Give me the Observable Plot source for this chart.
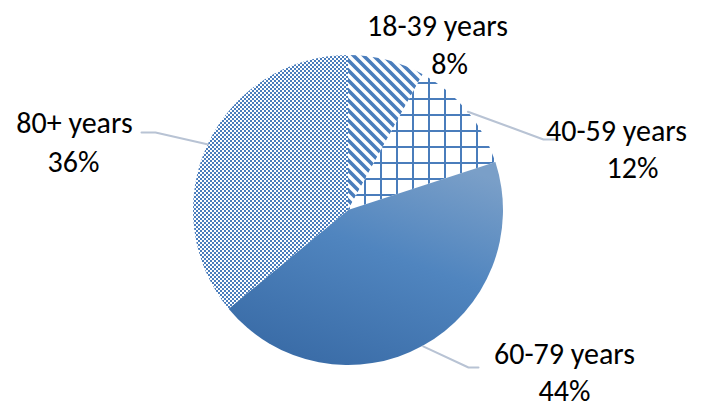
<!DOCTYPE html>
<html><head><meta charset="utf-8">
<script src="https://cdn.jsdelivr.net/npm/d3@7"></script>
<script src="https://cdn.jsdelivr.net/npm/@observablehq/plot@0.6"></script>
<style>body{margin:0;background:#fff}#chart svg{display:block}</style>
</head><body><div id="chart"></div>
<script>
// ---- data ----
const categories = ["18-39 years", "40-59 years", "60-79 years", "80+ years"];
const shares = [8, 12, 44, 36];

// ---- layout / style (kept apart from the data) ----
const fills = ["url(#p-diag)", "url(#p-grid)", "url(#g-grad)", "url(#p-check)"];
const nameCenters = [[437, 26], [616, 131], [564, 354], [74, 123]];
const pctCenters = [[449, 64], [632, 168], [564, 391], [73, 162]];
const leaderElbows = [[], [[543, 139], [555, 139]], [[468, 367], [478, 367]], [[155, 132], [141, 132]]];
const pieCenter = [348, 210];
const pieRadius = 155;
const W = 712, H = 410;
const blue = "#4a7dbc";

const data = categories.map((c, i) => ({category: c, value: shares[i], fill: fills[i], i}));
const arcs = d3.pie().sort(null).value(d => d.value)(data);
const total = d3.sum(shares);

const nameLabels = data.map((d, i) => ({text: d.category, x: nameCenters[i][0], y: nameCenters[i][1]}));
const pctLabels = data.map((d, i) => ({text: `${Math.round(d.value / total * 100)}%`, x: pctCenters[i][0], y: pctCenters[i][1]}));

const leaders = [];
arcs.forEach((a, i) => {
  if (!leaderElbows[i].length) return;
  const mid = (a.startAngle + a.endAngle) / 2;
  leaders.push({k: i, x: pieCenter[0] + pieRadius * Math.sin(mid), y: pieCenter[1] - pieRadius * Math.cos(mid)});
  leaderElbows[i].forEach(p => leaders.push({k: i, x: p[0], y: p[1]}));
});

function pieMark(index, scales, values, dims) {
  const g = d3.create("svg:g");
  const defs = g.append("defs");
  // diagonal stripes
  const pd = defs.append("pattern").attr("id", "p-diag").attr("patternUnits", "userSpaceOnUse")
    .attr("width", 10).attr("height", 10);
  pd.append("rect").attr("width", 10).attr("height", 10).attr("fill", "#fff");
  pd.append("path").attr("d", "M-2,-2L12,12M-2,8L2,12M8,-2L12,2").attr("stroke", blue).attr("stroke-width", 3.6);
  // grid
  const pg = defs.append("pattern").attr("id", "p-grid").attr("patternUnits", "userSpaceOnUse")
    .attr("width", 16).attr("height", 16);
  pg.append("rect").attr("width", 16).attr("height", 16).attr("fill", "#fff");
  pg.append("rect").attr("width", 2).attr("height", 16).attr("fill", blue).attr("shape-rendering", "crispEdges");
  pg.append("rect").attr("width", 16).attr("height", 2).attr("fill", blue).attr("shape-rendering", "crispEdges");
  // checker
  const pc = defs.append("pattern").attr("id", "p-check").attr("patternUnits", "userSpaceOnUse")
    .attr("width", 4).attr("height", 4);
  pc.append("rect").attr("width", 4).attr("height", 4).attr("fill", "#fff");
  pc.append("rect").attr("width", 2).attr("height", 2).attr("fill", blue).attr("shape-rendering", "crispEdges");
  pc.append("rect").attr("x", 2).attr("y", 2).attr("width", 2).attr("height", 2).attr("fill", blue).attr("shape-rendering", "crispEdges");
  // gradient
  const lg = defs.append("linearGradient").attr("id", "g-grad")
    .attr("x1", 0.8).attr("y1", 0).attr("x2", 0.3).attr("y2", 1);
  lg.append("stop").attr("offset", 0).attr("stop-color", "#7a9fc8");
  lg.append("stop").attr("offset", 0.45).attr("stop-color", "#5085bf");
  lg.append("stop").attr("offset", 1).attr("stop-color", "#3a6ca7");

  const cx = scales.x(pieCenter[0]), cy = scales.y(pieCenter[1]);
  const rr = scales.x(pieCenter[0] + pieRadius) - cx;
  const arc = d3.arc().innerRadius(0).outerRadius(rr);
  g.append("g").attr("transform", `translate(${cx},${cy})`)
    .selectAll("path").data(arcs).join("path")
    .attr("d", arc).attr("fill", d => d.data.fill);
  return g.node();
}

const textOpts = {x: "x", y: "y", text: "text", textAnchor: "middle", fontSize: 30, fill: "#000",
  fontFamily: "Calibri, Carlito, 'Liberation Sans', Arial, sans-serif"};

const plot = Plot.plot({
  width: W, height: H, margin: 0,
  x: {domain: [0, W], range: [0, W], axis: null},
  y: {domain: [0, H], range: [0, H], axis: null},
  style: {background: "#fff", overflow: "visible"},
  marks: [
    pieMark,
    Plot.line(leaders, {x: "x", y: "y", z: "k", stroke: "#b8c3d4", strokeWidth: 2, curve: "linear"}),
    Plot.text(nameLabels, textOpts),
    Plot.text(pctLabels, textOpts)
  ]
});
document.getElementById("chart").append(plot);
</script>
</body></html>
